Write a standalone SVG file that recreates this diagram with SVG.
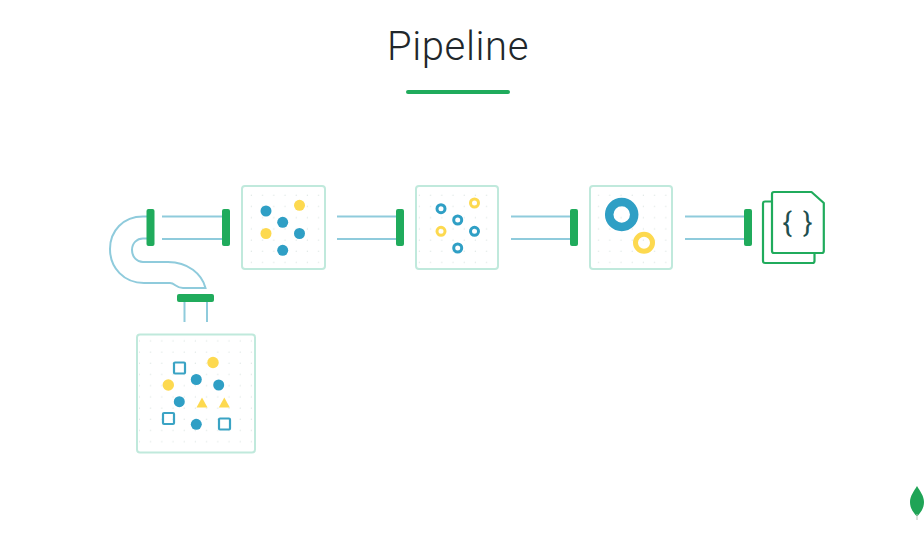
<svg xmlns="http://www.w3.org/2000/svg" width="924" height="535" viewBox="0 0 924 535">
<style>
.title{font-family:Roboto,"Liberation Sans",sans-serif;font-weight:300;font-size:40px;letter-spacing:0.6px;fill:#21272b}
.pipe{fill:none;stroke:#8fcbdc;stroke-width:2}
.fl{fill:#20ab5c}
.box{stroke:#c0e9dc;stroke-width:2}
.b{fill:#2f9fc5}
.y{fill:#fdd94f}
.rb{fill:none;stroke:#2f9fc5}
.ry{fill:none;stroke:#fdd94f}
.sq{fill:none;stroke:#3aa3c4;stroke-width:2.200}
.doc{fill:#fff;stroke:#20ab5c;stroke-width:2.200;stroke-linejoin:round}
.brace{font-family:Roboto,"Liberation Sans",sans-serif;font-weight:400;font-size:28px;fill:#1f4f4f;word-spacing:4px}
</style>
<defs>
<pattern id="dots" x="0" y="0" width="11.2" height="11.2" patternUnits="userSpaceOnUse"><circle cx="5" cy="5" r="0.7" fill="#dfe6e4"/></pattern>
</defs>
<rect width="924" height="535" fill="#fff"/>
<g id="title">
<text class="title" x="387" y="60">Pipeline</text>
<rect x="406" y="90" width="104" height="4" rx="2" class="fl"/>
</g>
<g id="connectors">
<path class="pipe" d="M147 216.500H143C123 216.500 110 231 110 249C110 268 124 283 144 283H170C175 283 176 288 183 288H205.500C202 274 188 262 168 262H143C137 262 132 257 132 250C132 243 137 238.500 143 238.500H147"/>
<path class="pipe" d="M162 216.500H222M162 239H222M337 216.500H396M337 239H396M511 216.500H570M511 239H570M685 216.500H744M685 239H744M184.500 302V322M207 302V322"/>
</g>
<g id="flanges">
<rect class="fl" x="146.500" y="209" width="8" height="37" rx="2"/>
<rect class="fl" x="222" y="209" width="8" height="37" rx="2"/>
<rect class="fl" x="396" y="209" width="8" height="37" rx="2"/>
<rect class="fl" x="570" y="209" width="8" height="37" rx="2"/>
<rect class="fl" x="744" y="209" width="8" height="37" rx="2"/>
<rect class="fl" x="177" y="294" width="37" height="8" rx="2"/>
</g>
<g id="box-source">
<rect class="box" x="137" y="334.500" width="118" height="118" rx="3" fill="#fff"/>
<rect x="139" y="336" width="114" height="115" fill="url(#dots)"/>
<rect class="sq" x="174" y="362.500" width="11" height="11" rx="1"/>
<circle class="y" cx="213" cy="362.500" r="5.700"/>
<circle class="y" cx="168.300" cy="385" r="5.700"/>
<circle class="b" cx="196.300" cy="379.500" r="5.500"/>
<circle class="b" cx="218.700" cy="385" r="5.500"/>
<circle class="b" cx="179.300" cy="401.700" r="5.500"/>
<path class="y" d="M202 397.500L207.500 407.500H196.500Z"/>
<path class="y" d="M224.300 397.500L229.800 407.500H218.800Z"/>
<rect class="sq" x="163" y="413" width="11" height="11" rx="1"/>
<circle class="b" cx="196.300" cy="424.300" r="5.500"/>
<rect class="sq" x="219" y="418.500" width="11" height="11" rx="1"/>
</g>
<g id="box-1">
<rect class="box" x="242" y="186" width="83" height="83" rx="3" fill="#fff"/>
<rect x="244" y="188" width="79" height="79" fill="url(#dots)"/>
<circle class="b" cx="266" cy="211" r="5.500"/>
<circle class="b" cx="282.700" cy="222.300" r="5.500"/>
<circle class="b" cx="299.500" cy="233.500" r="5.500"/>
<circle class="b" cx="282.700" cy="250.300" r="5.500"/>
<circle class="y" cx="299.500" cy="205.300" r="5.500"/>
<circle class="y" cx="266" cy="233.500" r="5.500"/>
</g>
<g id="box-2">
<rect class="box" x="416" y="186" width="82" height="83" rx="3" fill="#fff"/>
<rect x="418" y="188" width="78" height="79" fill="url(#dots)"/>
<g stroke-width="3">
<circle class="rb" cx="441" cy="208.700" r="4"/>
<circle class="rb" cx="457.700" cy="220" r="4"/>
<circle class="rb" cx="474.500" cy="231.300" r="4"/>
<circle class="rb" cx="457.700" cy="248" r="4"/>
<circle class="ry" cx="474.500" cy="203" r="4"/>
<circle class="ry" cx="441" cy="231.300" r="4"/>
</g>
</g>
<g id="box-3">
<rect class="box" x="590" y="186" width="82" height="83" rx="3" fill="#fff"/>
<rect x="592" y="188" width="78" height="79" fill="url(#dots)"/>
<circle class="rb" cx="621.700" cy="214.500" r="12.500" stroke-width="8.500"/>
<circle class="ry" cx="644" cy="242.700" r="8.500" stroke-width="5"/>
</g>
<g id="document">
<path class="doc" d="M765 201.500H812.500A2 2 0 0 1 814.500 203.500V261A2 2 0 0 1 812.500 263H765A2 2 0 0 1 763 261V203.500A2 2 0 0 1 765 201.500Z"/>
<path class="doc" d="M774 192H811.500L823.800 203V251A2 2 0 0 1 821.800 253H774A2 2 0 0 1 772 251V194A2 2 0 0 1 774 192Z"/>
<text class="brace" x="797.500" y="232" text-anchor="middle">{ }</text>
</g>
<g id="logo">
<path d="M917 486C920 491 924 496 924 502C924 509 920 513 917.500 516H916.500C914 513 910 509 910 502C910 496 914 491 917 486Z" fill="#1fa456"/>
<path d="M917 514V520" stroke="#b9c4bb" stroke-width="1"/>
</g>
</svg>
